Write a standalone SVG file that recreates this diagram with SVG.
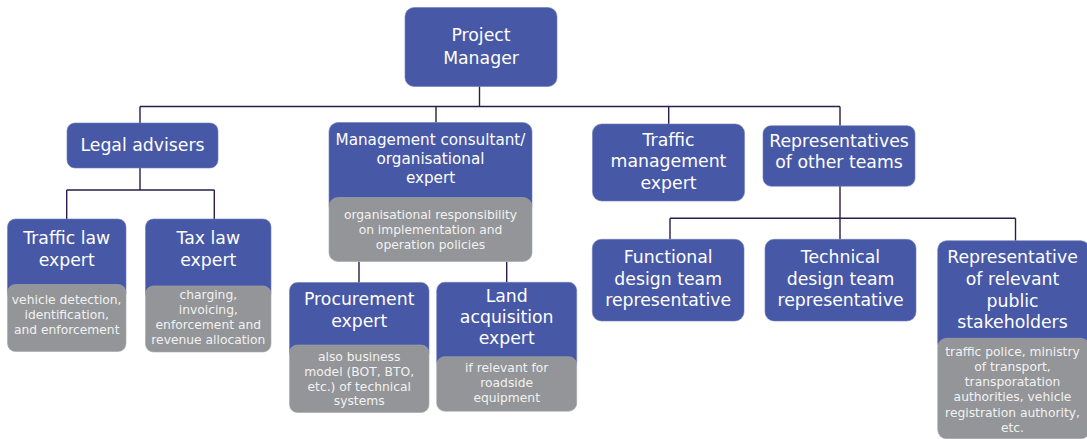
<svg xmlns="http://www.w3.org/2000/svg" width="1087" height="439" viewBox="0 0 1087 439">
<style>
.b{fill:#4758a6;stroke:#6f7dbb;stroke-width:0.6}
.g{fill:#939598;stroke:#a5a7aa;stroke-width:0.6}
.t{font-family:"DejaVu Sans","Liberation Sans",sans-serif;font-size:17.3px;fill:#ffffff;text-anchor:middle}
.m{font-size:15.2px}
.s{font-family:"DejaVu Sans","Liberation Sans",sans-serif;font-size:12.3px;fill:#f2f2f2;text-anchor:middle}
.c{fill:none;stroke:#2b1d48;stroke-width:1.4}
</style>
<rect width="1087" height="439" fill="#ffffff"/>
<g id="connectors" class="c">
<path d="M479.5 86 V106.5 M140 106.5 H840 M140 106.5 V123 M436 106.5 V122.5 M668.7 106.5 V124 M840 106.5 V125.7"/>
<path d="M140 168 V190 M66.7 190 H214.3 M66.7 190 V219 M214.3 190 V219"/>
<path d="M359 261.7 V282.5 M506.7 261.7 V282.3"/>
<path d="M840 186 V239.3 M670 218.3 H1015.5 M670 218.3 V239.3 M1015.5 218.3 V240.7"/>
</g>
<g id="project-manager">
<rect class="b" x="405" y="7.5" width="152" height="79" rx="9"/>
<text class="t" x="481" y="41">Project</text>
<text class="t" x="481" y="63.5">Manager</text>
</g>
<g id="legal-advisers">
<rect class="b" x="67" y="123" width="151" height="45" rx="8"/>
<text class="t" x="142.5" y="151">Legal advisers</text>
</g>
<g id="management-consultant">
<rect class="b" x="329" y="122.5" width="203" height="92" rx="9"/>
<rect class="g" x="329" y="197.5" width="203" height="64" rx="9"/>
<text class="t m" x="430.5" y="145">Management consultant/</text>
<text class="t m" x="430.5" y="164">organisational</text>
<text class="t m" x="430.5" y="183">expert</text>
<text class="s" x="430.5" y="219.3">organisational responsibility</text>
<text class="s" x="430.5" y="234">on implementation and</text>
<text class="s" x="430.5" y="249">operation policies</text>
</g>
<g id="traffic-management-expert">
<rect class="b" x="592.5" y="124" width="152" height="77" rx="9"/>
<text class="t" x="668.5" y="145.7">Traffic</text>
<text class="t" x="668.5" y="167.3">management</text>
<text class="t" x="668.5" y="188.5">expert</text>
</g>
<g id="representatives-other-teams">
<rect class="b" x="763" y="125.7" width="152" height="60.5" rx="8"/>
<text class="t" x="839" y="147.3">Representatives</text>
<text class="t" x="839" y="167.7">of other teams</text>
</g>
<g id="traffic-law-expert">
<rect class="b" x="7.5" y="219" width="118.5" height="82" rx="8"/>
<rect class="g" x="7.5" y="284.5" width="118.5" height="67" rx="8"/>
<text class="t" x="66.7" y="244.3">Traffic law</text>
<text class="t" x="66.7" y="266">expert</text>
<text class="s" x="66.7" y="303.5">vehicle detection,</text>
<text class="s" x="66.7" y="319">identification,</text>
<text class="s" x="66.7" y="334.3">and enforcement</text>
</g>
<g id="tax-law-expert">
<rect class="b" x="145.5" y="219" width="125.5" height="82" rx="8"/>
<rect class="g" x="145.5" y="286" width="125.5" height="66" rx="8"/>
<text class="t" x="208.3" y="244.3">Tax law</text>
<text class="t" x="208.3" y="266">expert</text>
<text class="s" x="208.3" y="299.3">charging,</text>
<text class="s" x="208.3" y="314">invoicing,</text>
<text class="s" x="208.3" y="329">enforcement and</text>
<text class="s" x="208.3" y="344">revenue allocation</text>
</g>
<g id="procurement-expert">
<rect class="b" x="289.5" y="282.5" width="139.5" height="78" rx="8"/>
<rect class="g" x="289.5" y="345" width="139.5" height="67.5" rx="8"/>
<text class="t" x="359.2" y="305">Procurement</text>
<text class="t" x="359.2" y="327.3">expert</text>
<text class="s" x="359.2" y="360.7">also business</text>
<text class="s" x="359.2" y="375.7">model (BOT, BTO,</text>
<text class="s" x="359.2" y="390.7">etc.) of technical</text>
<text class="s" x="359.2" y="405">systems</text>
</g>
<g id="land-acquisition-expert">
<rect class="b" x="436.7" y="282.3" width="140" height="88" rx="8"/>
<rect class="g" x="436.7" y="356.7" width="140" height="54.5" rx="8"/>
<text class="t" x="506.7" y="301.7">Land</text>
<text class="t" x="506.7" y="323.3">acquisition</text>
<text class="t" x="506.7" y="344.3">expert</text>
<text class="s" x="506.7" y="372.3">if relevant for</text>
<text class="s" x="506.7" y="387.3">roadside</text>
<text class="s" x="506.7" y="402.3">equipment</text>
</g>
<g id="functional-design-team">
<rect class="b" x="592.3" y="239.3" width="151.7" height="81.7" rx="9"/>
<text class="t" x="668.2" y="263.3">Functional</text>
<text class="t" x="668.2" y="284.5">design team</text>
<text class="t" x="668.2" y="306">representative</text>
</g>
<g id="technical-design-team">
<rect class="b" x="765" y="239.3" width="151" height="81.7" rx="9"/>
<text class="t" x="840.5" y="263.3">Technical</text>
<text class="t" x="840.5" y="284.5">design team</text>
<text class="t" x="840.5" y="306">representative</text>
</g>
<g id="public-stakeholders">
<rect class="b" x="937.7" y="240.7" width="152" height="112" rx="9"/>
<rect class="g" x="937.7" y="338.3" width="152" height="100.5" rx="9"/>
<text class="t" x="1012.5" y="263.3">Representative</text>
<text class="t" x="1012.5" y="285">of relevant</text>
<text class="t" x="1012.5" y="306.7">public</text>
<text class="t" x="1012.5" y="328.3">stakeholders</text>
<text class="s" x="1012.5" y="356">traffic police, ministry</text>
<text class="s" x="1012.5" y="371">of transport,</text>
<text class="s" x="1012.5" y="386">transporatation</text>
<text class="s" x="1012.5" y="401.3">authorities, vehicle</text>
<text class="s" x="1012.5" y="416.7">registration authority,</text>
<text class="s" x="1012.5" y="432">etc.</text>
</g>
</svg>
